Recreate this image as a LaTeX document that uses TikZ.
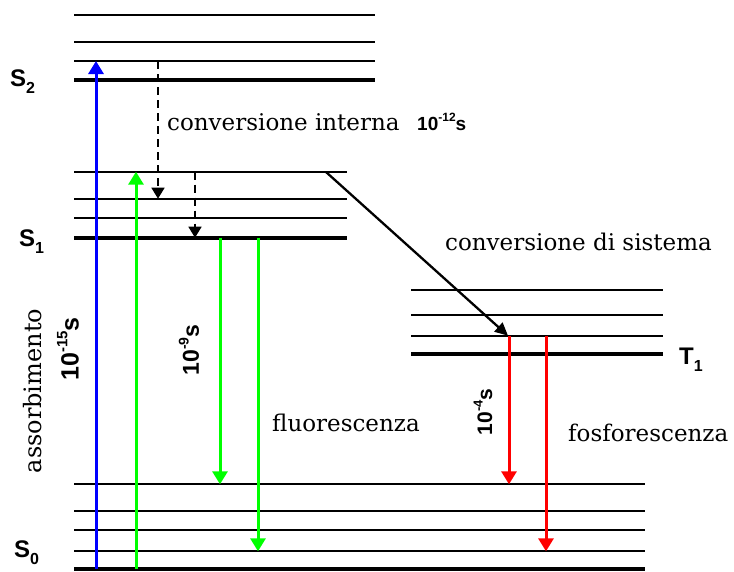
\documentclass[tikz,border=0pt]{standalone}
\usepackage{fontspec}
\setmainfont{DejaVu Serif}
\newfontfamily\labsans{Liberation Sans}
\usetikzlibrary{arrows.meta}
\newcommand\LevLab[2]{{\labsans\bfseries #1\raisebox{-0.3em}{\fontsize{16}{16}\selectfont #2}}}
% #1 size, #2 superscript size, #3 exponent
\newcommand\TimeLab[3]{{\labsans\bfseries\fontsize{#1}{#1}\selectfont 10\raisebox{0.45em}{\fontsize{#2}{#2}\selectfont -#3}s}}
\tikzset{
  thinlvl/.style={line width=1.8pt},
  thicklvl/.style={line width=3.6pt},
  arr/.style={line width=3pt,-{Triangle[width=15pt,length=13pt]}},
  dasharr/.style={line width=1.5pt,dash pattern=on 8pt off 5pt,-{Triangle[width=13pt,length=11pt]}},
  diagarr/.style={line width=2.3pt,-{Triangle[width=12pt,length=13pt]}},
  serif/.style={font=\fontsize{23}{23}\selectfont, inner sep=0pt, text=black},
  lev/.style={font=\fontsize{24}{24}\selectfont, inner sep=0pt, anchor=base west},
  tm/.style={inner sep=0pt},
}
\begin{document}
\begin{tikzpicture}[x=1pt,y=-1pt]
\useasboundingbox (0,0) rectangle (734,571);
% S2 levels
\foreach \y in {15,42,61} \draw[thinlvl] (74,\y) -- (375,\y);
\draw[thicklvl] (74,80) -- (375,80);
% S1 levels
\foreach \y in {171.7,198.7,217.7} \draw[thinlvl] (74,\y) -- (347,\y);
\draw[thicklvl] (74,237.7) -- (347,237.7);
% T1 levels
\foreach \y in {290,314.7,335.7} \draw[thinlvl] (411,\y) -- (663,\y);
\draw[thicklvl] (411,354) -- (663,354);
% S0 levels
\foreach \y in {484.3,511,530.3,551.3} \draw[thinlvl] (74,\y) -- (645,\y);
\draw[thicklvl] (74,569) -- (645,569);

% coordinates
\coordinate (bS) at (96,569);   \coordinate (bE) at (96,61);
\coordinate (gS) at (136,569);  \coordinate (gE) at (136,171.7);
\coordinate (d1S) at (158,61);  \coordinate (d1E) at (158,198.7);
\coordinate (d2S) at (195,171.7); \coordinate (d2E) at (195,237.7);
\coordinate (f1S) at (220,237.7); \coordinate (f1E) at (220,484.3);
\coordinate (f2S) at (258,237.7); \coordinate (f2E) at (258,551.3);
\coordinate (iS) at (326,172);  \coordinate (iE) at (508,335.7);
\coordinate (p1S) at (509,335.7); \coordinate (p1E) at (509,484.3);
\coordinate (p2S) at (546,335.7); \coordinate (p2E) at (546,551.3);

\draw[arr,blue] (bS) -- (bE);
\draw[arr,green] (gS) -- (gE);
\draw[dasharr] (d1S) -- (d1E);
\draw[dasharr] (d2S) -- (d2E);
\draw[arr,green] (f1S) -- (f1E);
\draw[arr,green] (f2S) -- (f2E);
\draw[diagarr] (iS) -- (iE);
\draw[arr,red] (p1S) -- (p1E);
\draw[arr,red] (p2S) -- (p2E);

% level labels
\node[lev] (s2) at (10,86) {\LevLab{S}{2}};
\node[lev] (s1) at (19,246) {\LevLab{S}{1}};
\node[lev] (s0) at (14,557) {\LevLab{S}{0}};
\node[lev] (t1) at (679,364) {\LevLab{T}{1}};

% text labels
\node[serif,anchor=base west] (ci) at (167,130) {conversione interna};
\node[tm,anchor=base west] (t12) at (417,130) {\TimeLab{19}{12}{12}};
\node[serif,anchor=base west] (cds) at (445,250) {conversione di sistema};
\node[serif,anchor=base west] (fl) at (272,431) {fluorescenza};
\node[serif,anchor=base west] (fo) at (568,441) {fosforescenza};
\node[serif,rotate=90,font=\fontsize{24}{24}\selectfont] (ass) at (33,391) {assorbimento};
\node[tm,rotate=90] (t15) at (68,349) {\TimeLab{25}{15}{15}};
\node[tm,rotate=90] (t9) at (189,350) {\TimeLab{23}{14}{9}};
\node[tm,rotate=90] (t4) at (483,412) {\TimeLab{21}{13}{4}};
\end{tikzpicture}
\end{document}
